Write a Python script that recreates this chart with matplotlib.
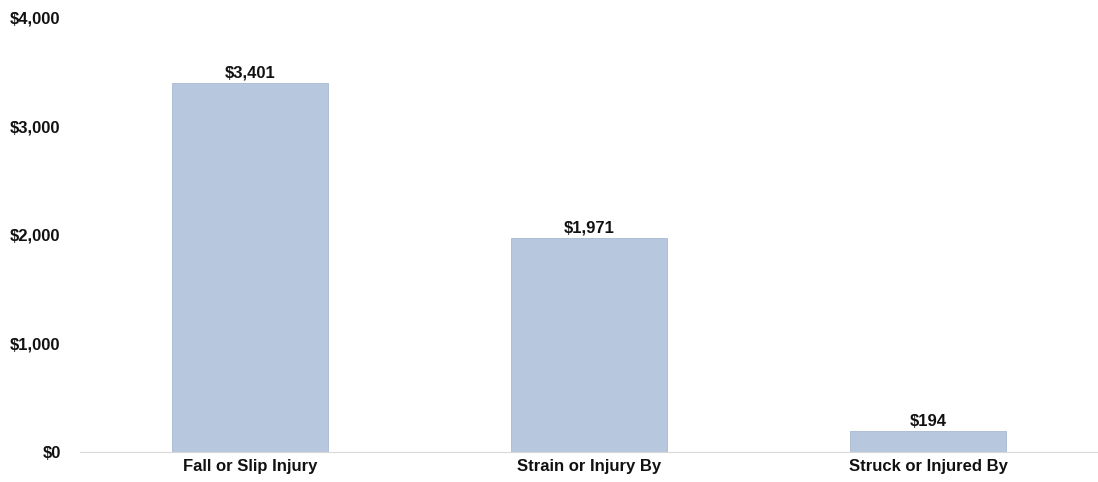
import matplotlib.pyplot as plt
from matplotlib.ticker import FuncFormatter

categories = ['Fall or Slip Injury', 'Strain or Injury By', 'Struck or Injured By']
costs = [3401, 1971, 194]
y_ticks = [0, 1000, 2000, 3000, 4000]

plt.rcParams['font.family'] = ['Liberation Sans', 'DejaVu Sans']

fig = plt.figure(figsize=(10.98, 4.82), dpi=100)
ax = fig.add_axes([0.073, 0.062, 0.927, 0.901])

x = range(len(categories))
bars = ax.bar(x, costs, width=0.46, color='#b7c7dd', edgecolor='#a9b9d2', linewidth=0.6)

for i, v in enumerate(costs):
    ax.text(i, v + 20, '${:,}'.format(v), ha='center', va='bottom',
            fontsize=12, fontweight='bold', color='#111111')

ax.set_xlim(-0.5, 2.5)
ax.set_ylim(0, 4000)
ax.set_yticks(y_ticks)
ax.yaxis.set_major_formatter(FuncFormatter(lambda v, p: '${:,.0f}'.format(v)))
ax.set_xticks(list(x))
ax.set_xticklabels(categories)

for lab in ax.get_xticklabels() + ax.get_yticklabels():
    lab.set_fontweight('bold')
    lab.set_fontsize(12)
    lab.set_color('#111111')

ax.tick_params(axis='y', length=0, pad=14)
ax.tick_params(axis='x', length=0, pad=5)

for s in ['top', 'right', 'left']:
    ax.spines[s].set_visible(False)
ax.spines['bottom'].set_color('#d8d8d8')
ax.spines['bottom'].set_linewidth(0.8)

fig.savefig('out.png', dpi=100)
